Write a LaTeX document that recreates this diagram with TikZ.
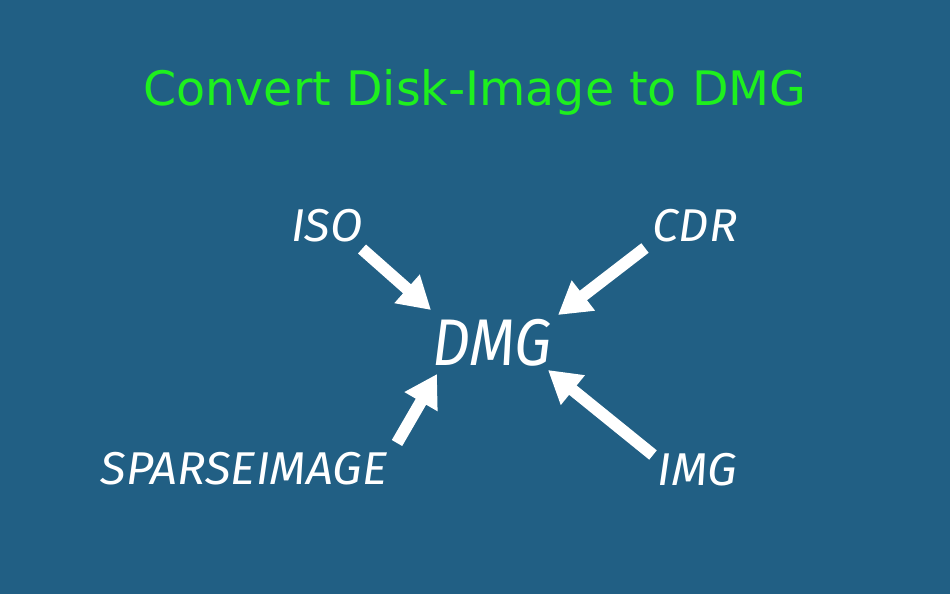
\documentclass[tikz,border=0pt]{standalone}
\usepackage{fontspec}
\setmainfont{DejaVu Sans}
\newfontfamily\lblfont{Fira Sans}
\usetikzlibrary{arrows.meta}
\definecolor{bg}{HTML}{215F84}
\definecolor{ttl}{HTML}{1EF01E}
\begin{document}
\begin{tikzpicture}[x=1pt,y=-1pt,
  lbl/.style={text=white,font=\lblfont\itshape\fontsize{46}{50}\selectfont,inner sep=0pt},
  arr/.style={white,line width=12pt,-{Triangle[width=36pt,length=32pt]}}]
\fill[bg] (0,0) rectangle (950,594);
\useasboundingbox (0,0) rectangle (950,594);
\node[text=ttl,font=\fontsize{47.5}{52}\selectfont] (title) at (475,92) {Convert Disk-Image to DMG};
\node[lbl] (iso) at (327,226) {\scalebox{1.03}[1]{ISO}};
\node[lbl] (cdr) at (695,226) {\scalebox{1.03}[1]{CDR}};
\node[lbl,font=\lblfont\itshape\fontsize{66}{70}\selectfont] (dmg) at (492,343) {\scalebox{0.9}[1]{DMG}};
\node[lbl] (sparse) at (244,469) {\scalebox{1.03}[1]{SPARSEIMAGE}};
\node[lbl] (img) at (697,470) {\scalebox{1.03}[1]{IMG}};
\coordinate (a1) at (362,249); \coordinate (b1) at (431,310);
\coordinate (a2) at (645,248); \coordinate (b2) at (558,315);
\coordinate (a3) at (397,443); \coordinate (b3) at (437,374);
\coordinate (a4) at (653,455); \coordinate (b4) at (548,370);
\draw[arr] (a1) -- (b1);
\draw[arr] (a2) -- (b2);
\draw[arr] (a3) -- (b3);
\draw[arr] (a4) -- (b4);
\end{tikzpicture}
\end{document}
